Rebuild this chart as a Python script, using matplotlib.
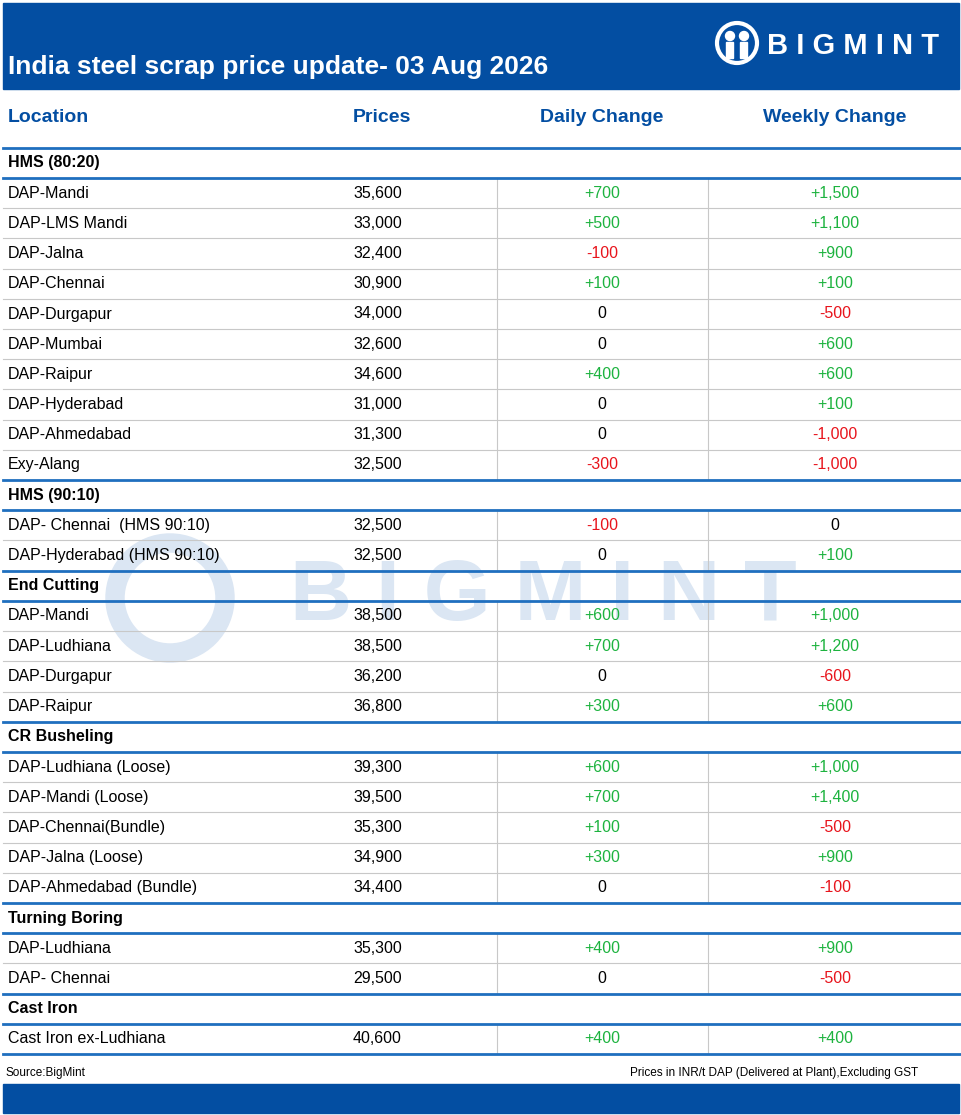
import matplotlib
matplotlib.use("Agg")
import matplotlib.pyplot as plt
from matplotlib.patches import Rectangle, Circle

plt.rcParams["font.family"] = ["Liberation Sans", "DejaVu Sans"]

BLUE = "#034ea2"
GREEN = "#1db33f"
RED = "#e8141c"
GRAY = "#c8c8c8"

title = "India steel scrap price update- 03 Aug 2026"
columns = ["Location", "Prices", "Daily Change", "Weekly Change"]

sections = ["HMS (80:20)", "HMS (90:10)", "End Cutting", "CR Busheling", "Turning Boring", "Cast Iron"]
locations = [
    ["DAP-Mandi", "DAP-LMS Mandi", "DAP-Jalna", "DAP-Chennai", "DAP-Durgapur", "DAP-Mumbai",
     "DAP-Raipur", "DAP-Hyderabad", "DAP-Ahmedabad", "Exy-Alang"],
    ["DAP- Chennai  (HMS 90:10)", "DAP-Hyderabad (HMS 90:10)"],
    ["DAP-Mandi", "DAP-Ludhiana", "DAP-Durgapur", "DAP-Raipur"],
    ["DAP-Ludhiana (Loose)", "DAP-Mandi (Loose)", "DAP-Chennai(Bundle)", "DAP-Jalna (Loose)",
     "DAP-Ahmedabad (Bundle)"],
    ["DAP-Ludhiana", "DAP- Chennai"],
    ["Cast Iron ex-Ludhiana"],
]
prices = [
    [35600, 33000, 32400, 30900, 34000, 32600, 34600, 31000, 31300, 32500],
    [32500, 32500],
    [38500, 38500, 36200, 36800],
    [39300, 39500, 35300, 34900, 34400],
    [35300, 29500],
    [40600],
]
daily = [
    [700, 500, -100, 100, 0, 0, 400, 0, 0, -300],
    [-100, 0],
    [600, 700, 0, 300],
    [600, 700, 100, 300, 0],
    [400, 0],
    [400],
]
weekly = [
    [1500, 1100, 900, 100, -500, 600, 600, 100, -1000, -1000],
    [0, 100],
    [1000, 1200, -600, 600],
    [1000, 1400, -500, 900, -100],
    [900, -500],
    [400],
]
source = "Source:BigMint"
note = "Prices in INR/t DAP (Delivered at Plant),Excluding GST"


def fmt_change(v):
    if v == 0:
        return "0", "black"
    return (f"+{v:,}" if v > 0 else f"-{abs(v):,}"), (GREEN if v > 0 else RED)


W, H = 962, 1115
fig = plt.figure(figsize=(W / 100, H / 100), dpi=100)
ax = fig.add_axes([0, 0, 1, 1])
ax.set_xlim(0, W)
ax.set_ylim(H, 0)
ax.axis("off")

# header band
ax.add_patch(Rectangle((3, 3), W - 6, 86, color=BLUE, zorder=1))
ax.text(8, 67, title, color="white", fontsize=19, fontweight="bold", va="center", zorder=3)
# logo
ax.add_patch(Circle((737, 43), 20, fill=False, ec="white", lw=3, zorder=3))
for dx in (-7, 7):
    ax.add_patch(Circle((737 + dx, 36), 4.5, color="white", zorder=3))
    ax.add_patch(Rectangle((737 + dx - 3.5, 42), 7, 16, color="white", zorder=3))
ax.text(767, 46, "B I G M I N T", color="white", fontsize=21, fontweight="bold", va="center", zorder=3)

# watermark
ax.add_patch(Circle((170, 598), 55, fill=False, ec="#dbe6f3", lw=14, zorder=0))
ax.text(290, 598, "B I G M I N T", color="#dbe6f3", fontsize=62, fontweight="bold",
        va="center", zorder=0)

# column headers
hy = 118
ax.text(8, hy, columns[0], color=BLUE, fontsize=14, fontweight="bold", va="center")
ax.text(353, hy, columns[1], color=BLUE, fontsize=14, fontweight="bold", va="center")
ax.text(602, hy, columns[2], color=BLUE, fontsize=14, fontweight="bold", va="center", ha="center")
ax.text(835, hy, columns[3], color=BLUE, fontsize=14, fontweight="bold", va="center", ha="center")

pitch = 30.2
y = 163
fs = 11.5
for s, sec in enumerate(sections):
    ax.plot([3, 960], [y - pitch / 2, y - pitch / 2], color="#1f6fbf", lw=2, zorder=2)
    ax.text(8, y, sec, fontsize=fs, fontweight="bold", va="center")
    ax.plot([3, 960], [y + pitch / 2, y + pitch / 2], color="#1f6fbf", lw=2, zorder=2)
    y += pitch
    n = len(locations[s])
    for i in range(n):
        ax.text(8, y, locations[s][i], fontsize=fs, va="center")
        ax.text(353, y, f"{prices[s][i]:,}", fontsize=fs, va="center")
        t, c = fmt_change(daily[s][i])
        ax.text(602, y, t, fontsize=fs, va="center", ha="center", color=c)
        t, c = fmt_change(weekly[s][i])
        ax.text(835, y, t, fontsize=fs, va="center", ha="center", color=c)
        for xv in (497, 708):
            ax.plot([xv, xv], [y - pitch / 2, y + pitch / 2], color=GRAY, lw=0.8, zorder=1)
        if i < n - 1:
            ax.plot([3, 960], [y + pitch / 2, y + pitch / 2], color=GRAY, lw=0.8, zorder=1)
        y += pitch
ax.plot([3, 960], [y - pitch / 2, y - pitch / 2], color="#1f6fbf", lw=2, zorder=2)

# footer
ax.text(6, 1073, source, fontsize=8.5, va="center")
ax.text(918, 1073, note, fontsize=8.5, va="center", ha="right")
ax.add_patch(Rectangle((3, 1084), W - 6, 29, color=BLUE, zorder=1))

fig.savefig("out.png", dpi=100)
